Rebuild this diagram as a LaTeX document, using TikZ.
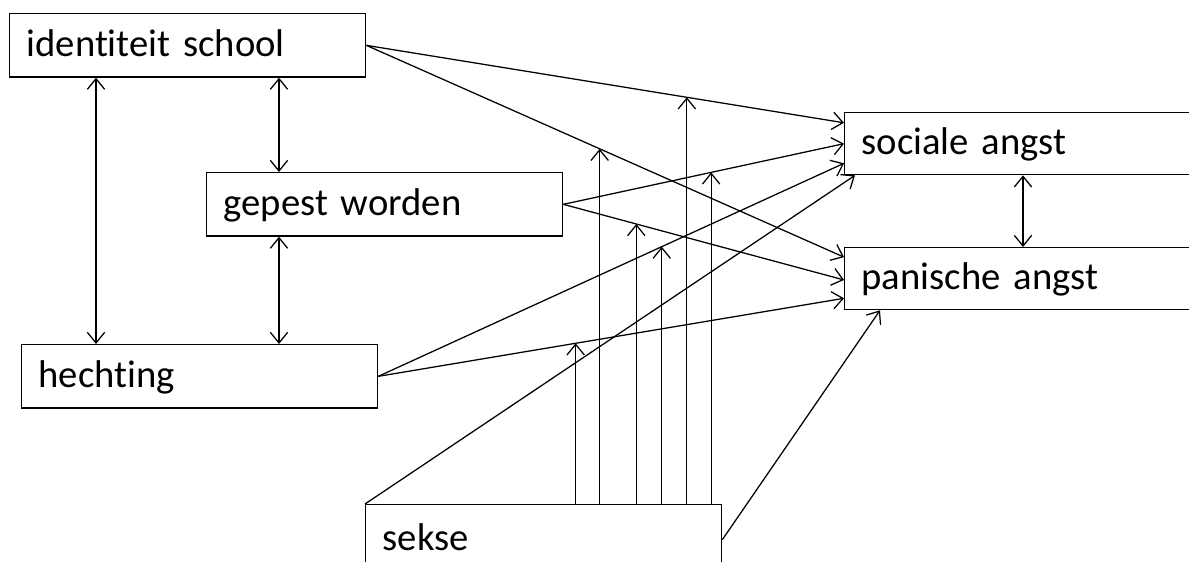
\documentclass[tikz,border=0pt]{standalone}
\usepackage{fontspec}
\setmainfont{Carlito}[Ligatures=NoCommon]
\usetikzlibrary{arrows.meta,calc,positioning}
\tikzset{
    raw box/.style={rectangle, draw, line width=1pt, inner xsep=12.75pt, align=left,
        font=\fontsize{29}{31}\selectfont, text height=20.3pt, text depth=3.8pt, anchor=north west},
    var box/.style={raw box, minimum width=267pt, text width=241.5pt, minimum height=47.5pt},
    angst box/.style={raw box, minimum width=300pt, text width=274.5pt, minimum height=46.5pt},
    sekse box/.style={var box, minimum height=52.5pt},
    effect/.style={->, draw},
    moderation/.style={->, draw},
    covariance/.style={<->, draw}
}
\begin{document}
\begin{tikzpicture}[x=0.75pt, y=-0.75pt, line width=0.95pt,
	>={Straight Barb[length=8pt,width=13pt]}]
		\useasboundingbox (0,0) rectangle (1189,561);
		\clip (0,0) rectangle (1189,561);
		\node[var box] (ident) at (9,13) {identiteit school};
		\node[var box] (gepest) at (206,172) {gepest worden};
		\node[var box] (hecht) at (21,344) {hechting};
		\node[angst box] (sociaal) at (844,112) {sociale angst};
		\node[angst box] (panisch) at (844,247) {panische angst};
		\node[sekse box] (sekse) at (365,504) {sekse};

		\coordinate (ih) at ($(ident.south west)+(87,0)$);
		\coordinate (ig) at ($(gepest.north west)+(73,0)$);
		\coordinate (sp) at ($(sociaal.south west)+(179,0)$);
		\draw[covariance] (ih) -- (ih |- hecht.north);
		\draw[covariance] (ident.south -| ig) -- (ig);
		\draw[covariance] (gepest.south -| ig) -- (hecht.north -| ig);
		\draw[covariance] (sp) -- (panisch.north -| sp);

		\draw[effect] (ident.east) -- coordinate[pos=0.671] (m1)
			($(sociaal.north west)!0.17!(sociaal.south west)$);
		\draw[effect] (ident.east) -- coordinate[pos=0.4885] (m2)
			($(panisch.north west)!0.16!(panisch.south west)$);
		\draw[effect] (gepest.east) -- coordinate[pos=0.5267] (m3)
			($(sociaal.north west)!0.5!(sociaal.south west)$);
		\draw[effect] (gepest.east) -- coordinate[pos=0.26] (m4)
			($(panisch.north west)!0.52!(panisch.south west)$);
		\draw[effect] (hecht.east) -- coordinate[pos=0.6086] (m5)
			($(sociaal.north west)!0.81!(sociaal.south west)$);
		\draw[effect] (hecht.east) -- coordinate[pos=0.4237] (m6)
			($(panisch.north west)!0.81!(panisch.south west)$);
		\draw[effect] (sekse.north west) -- ($(sociaal.south west)+(11,0)$);
		\draw[effect] (sekse.east) -- ($(panisch.south west)+(36,0)$);

		\foreach \m in {m1,m2,m3,m4,m5,m6}
			\draw[moderation] (\m |- sekse.north) -- (\m);
	\end{tikzpicture}
\end{document}
